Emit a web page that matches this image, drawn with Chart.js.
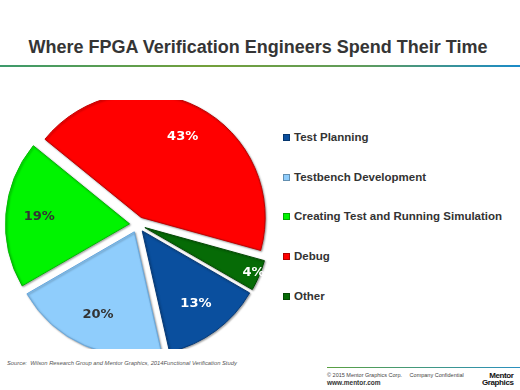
<!DOCTYPE html>
<html>
<head>
<meta charset="utf-8">
<script src="https://cdn.jsdelivr.net/npm/chart.js@4/dist/chart.umd.min.js"></script>
<style>
  body { margin: 0; background: #fff; }
  #page { position: relative; width: 520px; height: 390px; overflow: hidden; font-family: "Liberation Sans", Arial, sans-serif; }
  #title { position: absolute; left: 0; width: 516px; top: 37px; text-align: center; font-size: 18px; font-weight: bold; color: #353535; white-space: nowrap; }
  #rule { position: absolute; left: 0; top: 65px; width: 520px; height: 2px;
    background: linear-gradient(to right, #3d9a6c, #74a03a 40%, #5f9c5c 70%, #1a8bc9); }
  #pieWrap { position: absolute; left: 0; top: 100px; width: 275px; height: 249px; }
  #legend { position: absolute; left: 283px; top: 0; }
  .item { position: absolute; left: 0; white-space: nowrap; font-size: 11.5px; font-weight: bold; color: #333; line-height: 14px; }
  .item i { display: inline-block; width: 7px; height: 7px; margin-right: 4px; vertical-align: 0px; box-sizing: border-box; border: 1px solid rgba(0,0,0,0.3); }
  #source { position: absolute; left: 7px; top: 360px; font-size: 5.8px; font-style: italic; color: #555; white-space: nowrap; }
  #footRule { position: absolute; left: 327px; top: 367px; width: 193px; height: 1px;
    background: linear-gradient(to right, #5aa040, #2a90c0); }
  #copy { position: absolute; left: 327px; top: 372px; font-size: 5.5px; color: #444; white-space: pre; }
  #www { position: absolute; left: 327px; top: 379px; font-size: 6.5px; font-weight: bold; color: #333; }
  #logo { position: absolute; left: 482px; top: 372px; font-size: 8px; font-weight: bold; color: #111; line-height: 7px; text-align: right; letter-spacing: -0.4px; }
</style>
</head>
<body>
<div id="page">
  <div id="title">Where FPGA Verification Engineers Spend Their Time</div>
  <div id="rule"></div>
  <div id="pieWrap"><canvas id="pieChart"></canvas></div>
  <div id="legend"></div>
  <div id="source">Source:&nbsp; Wilson Research Group and Mentor Graphics, 2014Functional Verification Study</div>
  <div id="footRule"></div>
  <div id="copy">© 2015 Mentor Graphics Corp.     Company Confidential</div>
  <div id="www">www.mentor.com</div>
  <div id="logo">Mentor<br>Graphics</div>
</div>
<script>
// data (percent of time)
const CATEGORIES = [
    "Test Planning",
    "Testbench Development",
    "Creating Test and Running Simulation",
    "Debug",
    "Other"];
const SHARE = [13, 20, 19, 43, 4];

// styling
const SLICE_COLORS = ["#0a4f9e", "#8fcdfc", "#00f400", "#ff0000", "#066b06"];
const SLICE_EDGES = ["#063a78", "#6aa8dc", "#00b800", "#c00000", "#034a03"];
const LABEL_COLORS = ["#ffffff", "#333333", "#333333", "#ffffff", "#ffffff"];
const LEGEND_TOP = [137, 177, 216, 256, 296];
const EXPLODE = 8;   // every slice pulled out from the centre, px

function midAngle(arc) {
    const p = arc.getProps(['startAngle', 'endAngle']);
    return (p.startAngle + p.endAngle) / 2;
}

// draws the arcs pulled apart (Chart.js' own offset shrinks for mid-size slices)
const explodedPie = {
    id: 'explodedPie',
    beforeDatasetDraw(chart, args) {
        const ctx = chart.ctx;
        args.meta.data.forEach(arc => {
            const a = midAngle(arc);
            ctx.save();
            ctx.translate(Math.cos(a) * EXPLODE, Math.sin(a) * EXPLODE);
            ctx.shadowColor = 'rgba(0,0,0,0.35)';
            ctx.shadowBlur = 2;
            ctx.shadowOffsetX = 1;
            ctx.shadowOffsetY = 1;
            arc.draw(ctx, chart.chartArea);
            ctx.restore();
        });
        return false;
    },
    afterDatasetsDraw(chart) {
        const ctx = chart.ctx;
        const meta = chart.getDatasetMeta(0);
        ctx.save();
        ctx.font = 'bold 13px "DejaVu Sans", Verdana, sans-serif';
        ctx.textAlign = 'center';
        ctx.textBaseline = 'middle';
        meta.data.forEach((arc, i) => {
            const p = arc.getProps(['x', 'y', 'outerRadius']);
            const a = midAngle(arc);
            const frac = SHARE[i] < 5 ? 0.95 : 0.73;
            const r = p.outerRadius * frac + EXPLODE;
            ctx.fillStyle = LABEL_COLORS[i];
            ctx.fillText(SHARE[i] + '%', p.x + Math.cos(a) * r, p.y + Math.sin(a) * r);
        });
        ctx.restore();
    }
};

new Chart(document.getElementById('pieChart'), {
    type: 'pie',
    data: {
        labels: CATEGORIES,
        datasets: [{
            data: SHARE,
            backgroundColor: SLICE_COLORS,
            borderColor: SLICE_EDGES,
            borderWidth: 1
        }]
    },
    options: {
        responsive: true,
        maintainAspectRatio: false,
        animation: false,
        rotation: 120,
        layout: { padding: 0 },
        plugins: {
            legend: { display: false },
            tooltip: { enabled: false }
        }
    },
    plugins: [explodedPie]
});

// legend on the right
const legend = document.getElementById('legend');
CATEGORIES.forEach((name, i) => {
    const row = document.createElement('div');
    row.className = 'item';
    row.style.top = (LEGEND_TOP[i] - 7) + 'px';
    const box = document.createElement('i');
    box.style.background = SLICE_COLORS[i];
    row.appendChild(box);
    row.appendChild(document.createTextNode(name));
    legend.appendChild(row);
});
</script>
</body>
</html>
